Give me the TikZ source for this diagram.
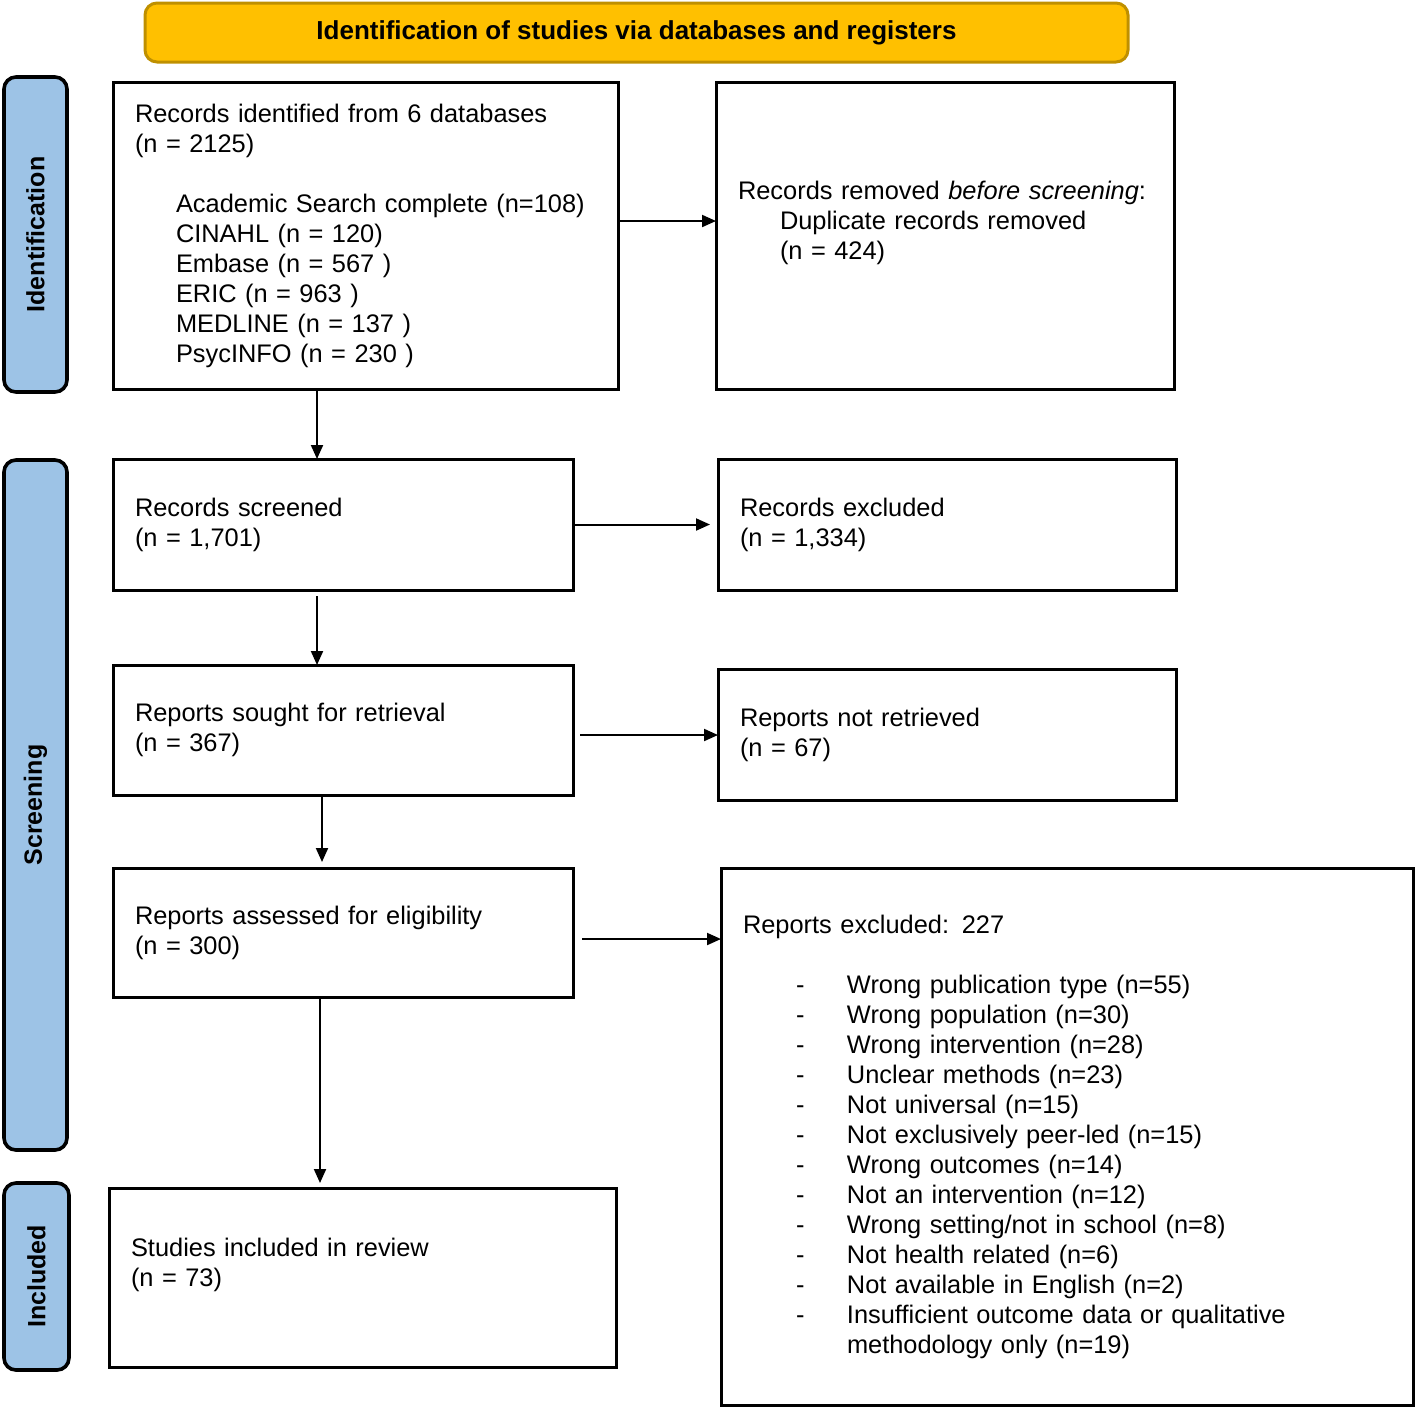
\documentclass[tikz,border=0pt]{standalone}
\usepackage{fontspec}
\setmainfont{Liberation Sans}
\usetikzlibrary{arrows.meta, calc}

\definecolor{headgold}{HTML}{FFC000}
\definecolor{headedge}{HTML}{BF9000}
\definecolor{sideblue}{HTML}{9DC3E6}

\newcommand{\reason}[1]{\hspace*{26.5pt}\makebox[25.5pt][l]{-}#1}

\begin{document}
\begin{tikzpicture}[x=0.5pt, y=-0.5pt,
    box/.style={draw, line width=1.5pt, anchor=north west, align=left, outer sep=0pt,
        inner xsep=11pt, inner ysep=0pt, font=\fontsize{12.7}{15}\selectfont},
    header/.style={draw=headedge, fill=headgold, line width=1.5pt, rounded corners=6pt,
        font=\fontsize{13}{15}\selectfont\bfseries},
    side/.style={draw, fill=sideblue, line width=1.8pt, rounded corners=6pt, rotate=90,
        font=\fontsize{12.5}{15}\selectfont\bfseries},
    flow/.style={line width=1pt, -{Triangle[length=7pt, width=6pt]}}]
    \useasboundingbox (0,0) rectangle (1416,1409);
    % Header and phases
    \node[header, minimum width=491.5pt, minimum height=29.5pt] (head) at (636.5,32.5)
        {Identification of studies via databases and registers};
    \node[side, minimum width=157.5pt, minimum height=31.5pt] (phaseid) at (35.5,234.5) {Identification};
    \node[side, minimum width=345pt, minimum height=31.5pt] (phasescr) at (35.5,805) {Screening};
    \node[side, minimum width=93.5pt, minimum height=32.5pt] (phaseinc) at (36.5,1276.5) {Included};
    % Left column
    \node[box, text width=230.5pt, minimum height=153.5pt] (ident) at (113,82)
        {Records identified from 6 databases\\
         (n = 2125)\\[15pt]
         \hspace*{20.5pt}Academic Search complete (n=108)\\
         \hspace*{20.5pt}CINAHL (n = 120)\\
         \hspace*{20.5pt}Embase (n = 567 )\\
         \hspace*{20.5pt}ERIC (n = 963 )\\
         \hspace*{20.5pt}MEDLINE (n = 137 )\\
         \hspace*{20.5pt}PsycINFO (n = 230 )};
    \node[box, text width=208pt, minimum height=65.5pt] (screened) at (113,459)
        {Records screened\\(n = 1,701)};
    \node[box, text width=208pt, minimum height=65pt] (sought) at (113,665)
        {Reports sought for retrieval\\(n = 367)};
    \node[box, text width=208pt, minimum height=64.5pt] (assessed) at (113,868)
        {Reports assessed for eligibility\\(n = 300)};
    \node[box, text width=231.5pt, minimum height=89.5pt] (incl) at (109,1188)
        {Studies included in review\\(n = 73)\\ ~};
    % Right column
    \node[box, text width=207pt, minimum height=153.5pt] (removed) at (716,82)
        {Records removed \textit{before screening}:\\
         \hspace*{21pt}Duplicate records removed\\
         \hspace*{21pt}(n = 424)\\ ~};
    \node[box, text width=207pt, minimum height=65.5pt] (excluded) at (718,459)
        {Records excluded\\(n = 1,334)};
    \node[box, text width=207pt, minimum height=65.5pt] (notret) at (718,669)
        {Reports not retrieved\\(n = 67)};
    \node[box, text width=324pt, minimum height=268.5pt] (exclrep) at (721,868)
        {Reports excluded: 227\\[15pt]
         \reason{Wrong publication type (n=55)}\\
         \reason{Wrong population (n=30)}\\
         \reason{Wrong intervention (n=28)}\\
         \reason{Unclear methods (n=23)}\\
         \reason{Not universal (n=15)}\\
         \reason{Not exclusively peer-led (n=15)}\\
         \reason{Wrong outcomes (n=14)}\\
         \reason{Not an intervention (n=12)}\\
         \reason{Wrong setting/not in school (n=8)}\\
         \reason{Not health related (n=6)}\\
         \reason{Not available in English (n=2)}\\
         \reason{Insufficient outcome data or qualitative}\\
         \hspace*{52pt}methodology only (n=19)};
    % Connectors
    \draw[flow] ($(ident.east)+(0,-14.5)$) -- ($(removed.west)+(0,-14.5)$);
    \draw[flow, shorten >=4pt] (screened.east) -- (excluded.west);
    \draw[flow, shorten <=3.5pt] ($(sought.east)+(0,5)$) -- ($(notret.west)+(0,0.5)$);
    \draw[flow, shorten <=4.5pt] ($(assessed.east)+(0,6.5)$) -- ($(exclrep.west)+(0,-197.5)$);
    \draw[flow] ($(ident.south)+(-48.5,0)$) -- ($(screened.north)+(-26,0)$);
    \draw[flow, shorten <=3pt] ($(screened.south)+(-26,0)$) -- ($(sought.north)+(-26,0)$);
    \draw[flow, shorten >=3pt] ($(sought.south)+(-21,0)$) -- ($(assessed.north)+(-21,0)$);
    \draw[flow, shorten >=2.5pt] ($(assessed.south)+(-23,0)$) -- ($(incl.north)+(-42.5,0)$);
\end{tikzpicture}
\end{document}
